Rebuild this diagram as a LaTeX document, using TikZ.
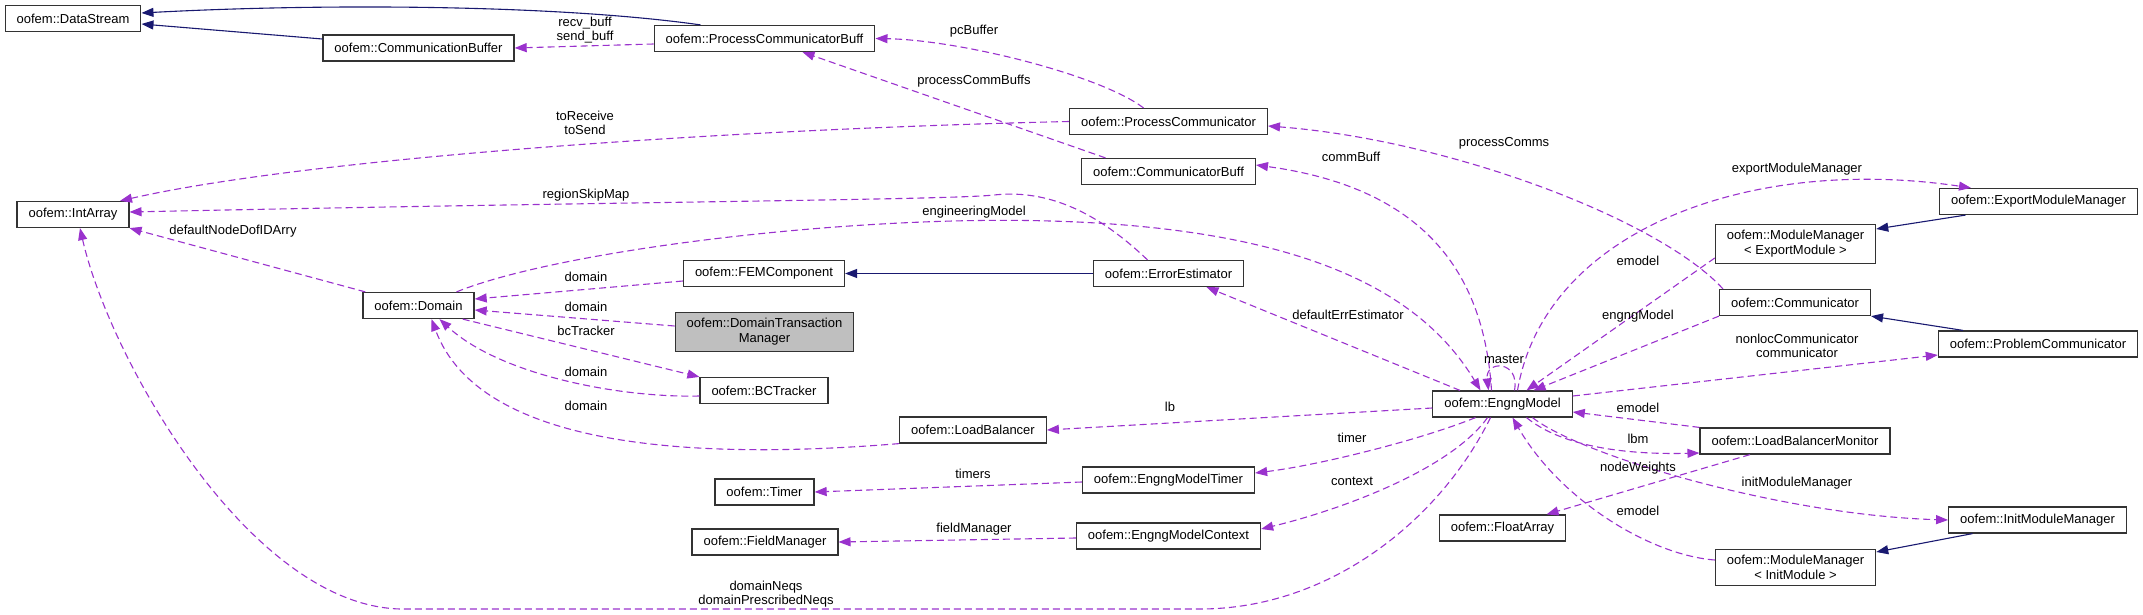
\documentclass[tikz,border=0pt]{standalone}
\usepackage{fontspec}
\setmainfont{Liberation Sans}
\usepackage{xcolor}
\usetikzlibrary{arrows.meta, positioning, calc}

\definecolor{usecolor}{HTML}{9A32CD}
\definecolor{inhcolor}{HTML}{191970}
\definecolor{curfill}{HTML}{BFBFBF}

\tikzset{
  cls/.style={draw=black!80, line width=1.2pt, fill=white, inner xsep=11.5pt, inner ysep=6pt,
    minimum height=26pt, align=center, font=\fontsize{13}{15}\selectfont},
  cur/.style={cls, fill=curfill},
  inh/.style={draw=inhcolor, line width=1.1pt, -{Triangle[length=12pt,width=9pt]}},
  use/.style={draw=usecolor, line width=1.1pt, dash pattern=on 7pt off 4pt, -{Triangle[length=12pt,width=9pt]}},
  lbl/.style={inner sep=0pt, align=center, font=\fontsize{13}{14}\selectfont},
}

\begin{document}
\begin{tikzpicture}[x=1pt, y=-1pt]
\useasboundingbox (0,0) rectangle (2143,615);

% classes
\node[cls] (ds) at (73,18.5) {oofem::DataStream};
\node[cls] (cbuf) at (418.5,48) {oofem::CommunicationBuffer};
\node[cls] (pcbuff) at (764.5,38.5) {oofem::ProcessCommunicatorBuff};
\node[cls] (pcomm) at (1168.5,121.5) {oofem::ProcessCommunicator};
\node[cls] (commbuff) at (1168.5,171.5) {oofem::CommunicatorBuff};
\node[cls] (intarr) at (73,214.5) {oofem::IntArray};
\node[cls] (femc) at (764,273.5) {oofem::FEMComponent};
\node[cls] (errest) at (1168.5,273.5) {oofem::ErrorEstimator};
\node[cls] (domain) at (418.5,305.5) {oofem::Domain};
\node[cur] (dtm) at (764.5,332) {oofem::DomainTransaction\\Manager};
\node[cls] (bct) at (764,390.5) {oofem::BCTracker};
\node[cls] (lbal) at (973,430) {oofem::LoadBalancer};
\node[cls] (timer) at (764.5,492) {oofem::Timer};
\node[cls] (emtimer) at (1168.5,480) {oofem::EngngModelTimer};
\node[cls] (fieldm) at (765,542) {oofem::FieldManager};
\node[cls] (emctx) at (1168.5,536) {oofem::EngngModelContext};
\node[cls] (engng) at (1502.5,404) {oofem::EngngModel};
\node[cls] (floatarr) at (1502.5,528) {oofem::FloatArray};
\node[cls] (mmexp) at (1795.5,244) {oofem::ModuleManager\\< ExportModule >};
\node[cls] (comm) at (1795,302.5) {oofem::Communicator};
\node[cls] (lbmon) at (1795,441) {oofem::LoadBalancerMonitor};
\node[cls] (mminit) at (1795.5,567.5) {oofem::ModuleManager\\< InitModule >};
\node[cls] (expmm) at (2038.5,201.5) {oofem::ExportModuleManager};
\node[cls] (probcomm) at (2038,344) {oofem::ProblemCommunicator};
\node[cls] (initmm) at (2037.5,520) {oofem::InitModuleManager};

% inheritance
\draw[inh] ([yshift=9pt]cbuf.west) -- ([yshift=-5.5pt]ds.east);
\draw[inh] ([xshift=-64pt]pcbuff.north) .. controls (560,5) and (330,3) .. ([yshift=5.5pt]ds.east);
\draw[inh] (errest.west) -- (femc.east);
\draw[inh] ([xshift=-73pt]expmm.south) -- ([yshift=15pt]mmexp.east);
\draw[inh] ([xshift=-75pt]probcomm.north) -- (comm.south east);
\draw[inh] ([xshift=-65pt]initmm.south) -- ([yshift=15.5pt]mminit.east);

% usage
\draw[use] ([yshift=-5.5pt]pcbuff.west) -- (cbuf.east);
\draw[use] ([xshift=-25pt]pcomm.north) .. controls (1100,75) and (960,40) .. (pcbuff.east);
\draw[use] ([xshift=-63pt]commbuff.north) -- ([xshift=38pt]pcbuff.south);
\draw[use] (pcomm.west) .. controls (700,130) and (300,160) .. ([xshift=47pt]intarr.north);
\draw[use] ([xshift=-21pt]errest.north) .. controls (1090,205) and (1040,190) .. (994,195)
  .. controls (950,200) and (600,202) .. ([yshift=2.5pt]intarr.east);
\draw[use] ([xshift=3pt]domain.north west) -- (intarr.south east);
\draw[use] ([xshift=-12pt]engng.south) .. controls (1440,520) and (1330,609) .. (1200,609) -- (400,609)
  .. controls (250,605) and (110,360) .. ([xshift=7pt]intarr.south);
\draw[use] ([xshift=38pt]domain.north) .. controls (560,250) and (850,215) .. (1050,221)
  .. controls (1300,228) and (1420,290) .. ([xshift=-22pt]engng.north);
\draw[use] ([yshift=-7.5pt]femc.west) -- ([yshift=6.5pt]domain.east);
\draw[use] ([yshift=6pt]dtm.west) -- ([yshift=-4.5pt]domain.east);
\draw[use] ([xshift=-12pt]domain.south east) -- (bct.north west);
\draw[use] ([yshift=-5.5pt]bct.west) .. controls (620,398) and (500,375) .. ([xshift=21pt]domain.south);
\draw[use] (lbal.south west) .. controls (700,460) and (480,450) .. ([xshift=13pt]domain.south);
\draw[use] ([xshift=-42.5pt]engng.north) -- ([xshift=38pt]errest.south);
\draw[use] ([xshift=-11pt]engng.north) .. controls (1485,290) and (1440,190) .. ([yshift=6.5pt]commbuff.east);
\draw[use] ([xshift=4pt]comm.north west) .. controls (1660,220) and (1450,140) .. ([yshift=-4.5pt]pcomm.east);
\draw[use] ([xshift=15pt]engng.north) .. controls (1545,230) and (1750,155) .. ([xshift=32pt]expmm.north west);
\draw[use] ([yshift=-14pt]mmexp.west) -- ([xshift=24pt]engng.north);
\draw[use] (comm.south west) -- ([xshift=31pt]engng.north);
\draw[use] ([xshift=12pt]engng.north) .. controls (1520,360) and (1485,360) .. ([xshift=-14pt]engng.north);
\draw[use] ([yshift=8pt]engng.east) -- ([yshift=-11pt]probcomm.west);
\draw[use] (lbmon.north west) -- ([yshift=-8pt]engng.east);
\draw[use] ([xshift=24pt]engng.south) .. controls (1560,445) and (1620,455) .. ([yshift=-12pt]lbmon.west);
\draw[use] ([xshift=-45pt]lbmon.south) -- ([xshift=44pt]floatarr.north);
\draw[use] ([xshift=30pt]engng.south) .. controls (1580,455) and (1780,515) .. (initmm.west);
\draw[use] ([yshift=7.5pt]mminit.west) .. controls (1650,555) and (1560,500) .. ([xshift=10pt]engng.south);
\draw[use] ([yshift=-4pt]engng.west) -- (lbal.east);
\draw[use] ([xshift=-27pt]engng.south) .. controls (1420,440) and (1320,465) .. ([yshift=7pt]emtimer.east);
\draw[use] ([yshift=-2pt]emtimer.west) -- (timer.east);
\draw[use] ([xshift=-15pt]engng.south) .. controls (1450,470) and (1340,510) .. ([yshift=7pt]emctx.east);
\draw[use] ([yshift=-2pt]emctx.west) -- (fieldm.east);

% member names
\node[lbl] (lrecv) at (585,30) {recv\_buff\\send\_buff};
\node[lbl] (lpcbuf) at (974,31) {pcBuffer};
\node[lbl] (lpcb) at (974,81) {processCommBuffs};
\node[lbl] (ltorecv) at (585,123) {toReceive\\toSend};
\node[lbl] (lregion) at (586,195) {regionSkipMap};
\node[lbl] (ldefnode) at (233,231) {defaultNodeDofIDArry};
\node[lbl] (lneqs) at (766,594) {domainNeqs\\domainPrescribedNeqs};
\node[lbl] (lengmodel) at (974,212) {engineeringModel};
\node[lbl] (ldoma) at (586,277) {domain};
\node[lbl] (ldomb) at (586,307) {domain};
\node[lbl] (lbct) at (586,331) {bcTracker};
\node[lbl] (ldomc) at (586,372) {domain};
\node[lbl] (ldomd) at (586,406) {domain};
\node[lbl] (lerrest) at (1348,315) {defaultErrEstimator};
\node[lbl] (lcommbuff) at (1351,157) {commBuff};
\node[lbl] (lprocc) at (1504,143) {processComms};
\node[lbl] (lexpmm) at (1797,169) {exportModuleManager};
\node[lbl] (lemoda) at (1638,261) {emodel};
\node[lbl] (lengng) at (1638,316) {engngModel};
\node[lbl] (lmaster) at (1504,359) {master};
\node[lbl] (lnonloc) at (1797,346) {nonlocCommunicator\\communicator};
\node[lbl] (lemodb) at (1638,408) {emodel};
\node[lbl] (llbm) at (1638,439) {lbm};
\node[lbl] (lnodew) at (1638,468) {nodeWeights};
\node[lbl] (linitmm) at (1797,483) {initModuleManager};
\node[lbl] (lemodc) at (1638,511) {emodel};
\node[lbl] (llb) at (1170,407) {lb};
\node[lbl] (ltimer) at (1352,438) {timer};
\node[lbl] (ltimers) at (973,474) {timers};
\node[lbl] (lcontext) at (1352,481) {context};
\node[lbl] (lfield) at (974,529) {fieldManager};
\end{tikzpicture}
\end{document}
